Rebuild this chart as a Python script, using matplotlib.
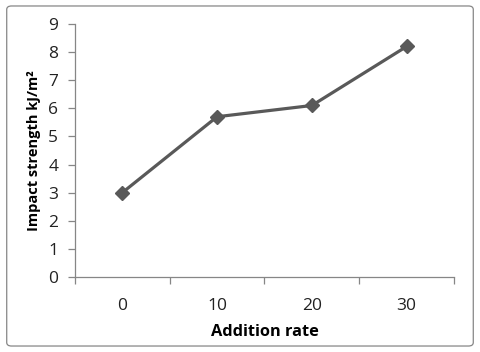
import matplotlib.pyplot as plt
from matplotlib.patches import FancyBboxPatch
from matplotlib.ticker import FixedLocator

# data
categories = ['0', '10', '20', '30']
impact = [3.0, 5.7, 6.1, 8.2]
y_ticks = list(range(0, 10))

plt.rcParams['font.family'] = ['Open Sans', 'DejaVu Sans']

fig = plt.figure(figsize=(4.8, 3.52), dpi=100)
ax = fig.add_axes([0.156, 0.213, 0.79, 0.719])

x = list(range(len(categories)))
ax.plot(x, impact, color='#595959', linewidth=2.3, marker='D',
        markersize=7.5, markerfacecolor='#595959', markeredgecolor='#595959')

ax.set_xlim(-0.5, len(categories) - 0.5)
ax.set_ylim(0, 9)
ax.set_yticks(y_ticks)
ax.set_xticks(x)
ax.set_xticklabels(categories)
ax.xaxis.set_minor_locator(FixedLocator([i - 0.5 for i in range(len(categories) + 1)]))

ax.tick_params(axis='x', which='major', length=0, pad=15, labelsize=12.5, colors='#222222')
ax.tick_params(axis='x', which='minor', length=5, width=0.9, color='#868686', direction='out')
ax.tick_params(axis='y', length=5, width=0.9, color='#868686', labelsize=12.5,
               labelcolor='#222222', pad=7)

for s in ['top', 'right']:
    ax.spines[s].set_visible(False)
for s in ['left', 'bottom']:
    ax.spines[s].set_color('#868686')
    ax.spines[s].set_linewidth(0.9)

ax.set_xlabel('Addition rate', fontsize=11.8, fontweight='bold', labelpad=7)
ax.set_ylabel('Impact strength kJ/m²', fontsize=10.5, fontweight='bold', labelpad=5)

border = FancyBboxPatch((0.014, 0.017), 0.972, 0.966, boxstyle='round,pad=0,rounding_size=0.01',
                        transform=fig.transFigure, facecolor='none', edgecolor='#868686',
                        linewidth=0.9)
fig.patches.append(border)

fig.savefig('out.png', dpi=100)
